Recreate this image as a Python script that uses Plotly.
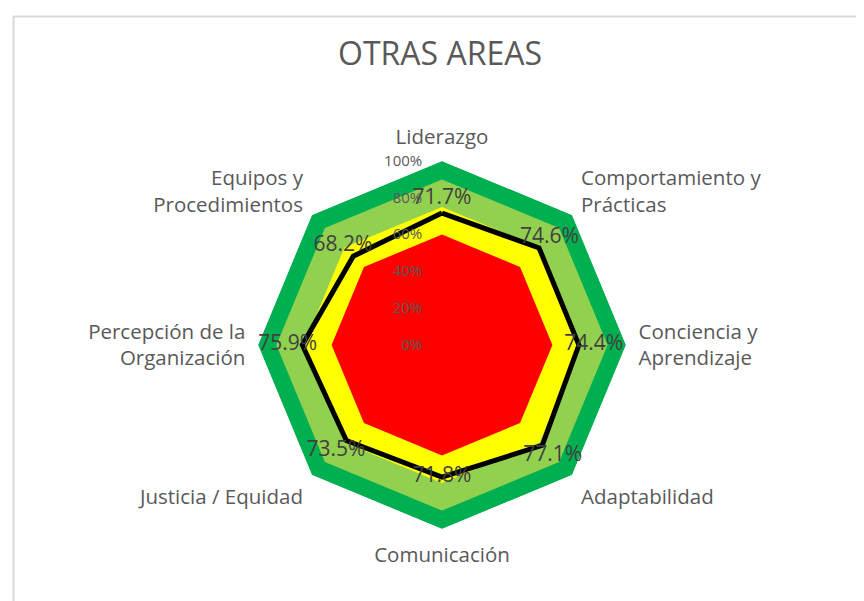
import plotly.graph_objects as go

# categories and values
areas = ["Liderazgo", "Comportamiento y<br>Prácticas", "Conciencia y<br>Aprendizaje",
         "Adaptabilidad", "Comunicación", "Justicia / Equidad",
         "Percepción de la<br>Organización", "Equipos y<br>Procedimientos"]
valores = [0.717, 0.746, 0.744, 0.771, 0.718, 0.735, 0.759, 0.682]

# background bands (same value on every axis)
banda_max = [1.0] * 8
banda_bueno = [0.9] * 8
banda_medio = [0.75] * 8
banda_bajo = [0.6] * 8

radial_ticks = [0, 0.2, 0.4, 0.6, 0.8, 1.0]
radial_text = ["0%", "20%", "40%", "60%", "80%", "100%"]

# how far each data label sits outside its point (radial units)
label_nudge = [0.08, 0.08, 0.08, 0.08, 0.0, 0.08, 0.08, 0.08]

font = "Open Sans"
gray = "#595959"

W, H = 864, 601
cx, cy, R = 434, 337, 184


def closed(v):
    return list(v) + [v[0]]


theta = closed(areas)

fig = go.Figure()
for vals, col in [(banda_max, "#00B050"), (banda_bueno, "#92D050"),
                  (banda_medio, "#FFFF00"), (banda_bajo, "#FF0000")]:
    fig.add_trace(go.Scatterpolar(r=closed(vals), theta=theta, mode="lines",
                                  fill="toself", fillcolor=col,
                                  line=dict(color=col, width=0),
                                  hoverinfo="skip", showlegend=False))

fig.add_trace(go.Scatterpolar(r=closed(valores), theta=theta, mode="lines",
                              line=dict(color="black", width=5),
                              showlegend=False))

fig.add_trace(go.Scatterpolar(r=[v + n for v, n in zip(valores, label_nudge)],
                              theta=areas, mode="text",
                              text=[f"{v*100:.1f}%" for v in valores],
                              textposition="middle center",
                              textfont=dict(family=font, size=21, color="#404040"),
                              showlegend=False))

fig.update_layout(
    width=W, height=H,
    margin=dict(l=0, r=0, t=0, b=0),
    paper_bgcolor="white", plot_bgcolor="white",
    title=dict(text="OTRAS AREAS", x=0.5, xanchor="center", y=1 - 46 / H,
               yanchor="middle", pad=dict(t=0, b=0, l=0, r=0),
               font=dict(family=font, size=32, color=gray)),
    polar=dict(
        domain=dict(x=[(cx - R) / W, (cx + R) / W],
                    y=[(H - cy - R) / H, (H - cy + R) / H]),
        bgcolor="rgba(0,0,0,0)",
        gridshape="linear",
        radialaxis=dict(range=[0, 1], tickvals=radial_ticks, ticktext=radial_text,
                        angle=90, tickangle=90, side="counterclockwise",
                        showline=False, showgrid=False,
                        ticks="outside", ticklen=14, tickcolor="rgba(0,0,0,0)",
                        tickfont=dict(family=font, size=15, color=gray)),
        angularaxis=dict(direction="clockwise", rotation=90, showline=False,
                         showgrid=False, ticks="outside", ticklen=8,
                         tickcolor="rgba(0,0,0,0)",
                         tickfont=dict(family=font, size=20.5, color=gray)),
    ),
    shapes=[dict(type="rect", xref="paper", yref="paper",
                 x0=5.5 / W, x1=1.05, y0=-0.05, y1=1 - 8.5 / H,
                 line=dict(color="#D9D9D9", width=2))],
)

fig.write_html("out.html")
